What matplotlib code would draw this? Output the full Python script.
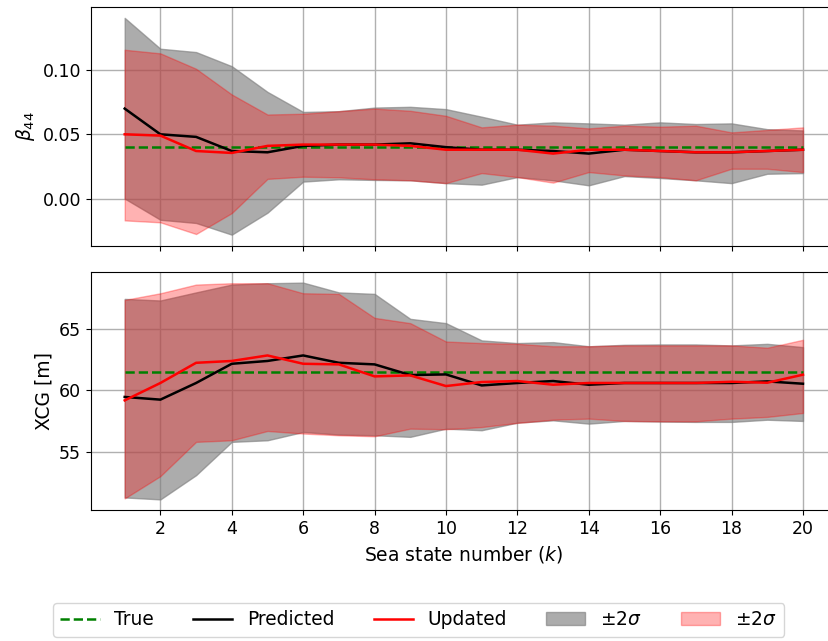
import numpy as np
import matplotlib
matplotlib.use("Agg")
import matplotlib.pyplot as plt

plt.rcParams['font.size'] = 12.5
plt.rcParams['mathtext.fontset'] = 'dejavusans'

# sea states
k = np.arange(1, 21)

# beta_44
b44_true = 0.040
b44_pred = [0.070, 0.050, 0.048, 0.037, 0.036, 0.041, 0.042, 0.042, 0.043, 0.040,
            0.038, 0.038, 0.037, 0.035, 0.038, 0.037, 0.036, 0.036, 0.037, 0.038]
b44_upd = [0.050, 0.049, 0.037, 0.0355, 0.041, 0.042, 0.042, 0.042, 0.041, 0.038,
           0.038, 0.038, 0.035, 0.038, 0.038, 0.037, 0.036, 0.036, 0.037, 0.038]
b44_pred_hi = [0.1406, 0.1166, 0.114, 0.103, 0.083, 0.0674, 0.068, 0.0708, 0.0714, 0.0696,
               0.0637, 0.0575, 0.0593, 0.0585, 0.0575, 0.0593, 0.058, 0.0585, 0.054, 0.053]
b44_pred_lo = [0.000, -0.0165, -0.019, -0.0281, -0.011, 0.0132, 0.015, 0.0145, 0.0142, 0.012,
               0.0108, 0.0167, 0.0142, 0.0103, 0.0175, 0.016, 0.0142, 0.012, 0.0193, 0.0198]
b44_upd_hi = [0.1158, 0.113, 0.101, 0.081, 0.0654, 0.066, 0.068, 0.070, 0.0683, 0.0644,
              0.0554, 0.0575, 0.0567, 0.0546, 0.0567, 0.0559, 0.0567, 0.0515, 0.0534, 0.0554]
b44_upd_lo = [-0.017, -0.0185, -0.0276, -0.0113, 0.0153, 0.017, 0.0165, 0.015, 0.0142, 0.012,
              0.0198, 0.0167, 0.0124, 0.0206, 0.018, 0.0167, 0.0142, 0.0232, 0.0232, 0.0206]

# XCG
xcg_true = 61.5
xcg_pred = [59.46, 59.24, 60.6, 62.17, 62.4, 62.85, 62.25, 62.12, 61.25, 61.3,
            60.4, 60.6, 60.76, 60.46, 60.6, 60.6, 60.6, 60.6, 60.73, 60.54]
xcg_upd = [59.18, 60.6, 62.25, 62.4, 62.85, 62.17, 62.12, 61.14, 61.22, 60.35,
           60.68, 60.76, 60.46, 60.6, 60.6, 60.6, 60.6, 60.7, 60.62, 61.28]
xcg_pred_hi = [67.47, 67.34, 68.0, 68.64, 68.75, 68.8, 68.0, 67.88, 65.84, 65.49,
               64.08, 63.86, 63.94, 63.6, 63.72, 63.75, 63.75, 63.67, 63.8, 63.53]
xcg_pred_lo = [51.25, 51.09, 53.07, 55.79, 55.92, 56.6, 56.39, 56.33, 56.2, 56.87,
               56.74, 57.36, 57.55, 57.28, 57.5, 57.45, 57.42, 57.42, 57.6, 57.5]
xcg_upd_hi = [67.39, 67.93, 68.64, 68.75, 68.75, 67.93, 67.88, 65.92, 65.49, 63.99,
              63.86, 63.8, 63.6, 63.6, 63.67, 63.67, 63.67, 63.67, 63.48, 64.13]
xcg_upd_lo = [51.17, 52.99, 55.79, 55.92, 56.68, 56.47, 56.33, 56.25, 56.87, 56.82,
              57.0, 57.34, 57.6, 57.69, 57.5, 57.47, 57.47, 57.69, 57.83, 58.15]

fig = plt.figure(figsize=(8.29, 6.41), dpi=100)
ax1 = fig.add_axes([0.1095, 0.617, 0.9, 0.372])
ax2 = fig.add_axes([0.1095, 0.204, 0.9, 0.372], sharex=ax1)

panels = [
    (ax1, b44_true, b44_pred, b44_upd, b44_pred_lo, b44_pred_hi, b44_upd_lo, b44_upd_hi, r'$\beta_{44}$'),
    (ax2, xcg_true, xcg_pred, xcg_upd, xcg_pred_lo, xcg_pred_hi, xcg_upd_lo, xcg_upd_hi, 'XCG [m]'),
]

for ax, tr, pr, up, plo, phi, ulo, uhi, lab in panels:
    ax.plot(k, [tr] * len(k), '--', color='green', lw=1.8, label='True', zorder=4)
    ax.plot(k, pr, '-', color='black', lw=1.8, label='Predicted', zorder=4)
    ax.plot(k, up, '-', color='red', lw=1.8, label='Updated', zorder=4)
    ax.fill_between(k, plo, phi, color='gray', alpha=0.65, label=r'$\pm 2\sigma$', zorder=2)
    ax.fill_between(k, ulo, uhi, color='red', alpha=0.3, label=r'$\pm 2\sigma$', zorder=3)
    ax.set_ylabel(lab, fontsize=13.5)
    ax.grid(True, color='#b0b0b0', lw=1.0)
    ax.set_axisbelow(True)

ax1.set_yticks([0.0, 0.05, 0.10])
ax2.set_yticks([55, 60, 65])
ax1.tick_params(labelbottom=False)
ax2.set_xticks(np.arange(2, 21, 2))
ax2.set_xlabel(r'Sea state number ($k$)', fontsize=13.5)

handles, labels = ax1.get_legend_handles_labels()
fig.legend(handles, labels, loc='lower center', bbox_to_anchor=(0.505, -0.008),
           ncol=5, fontsize=13.4, columnspacing=2.1, handlelength=2.1)

fig.savefig('out.png', dpi=100)
